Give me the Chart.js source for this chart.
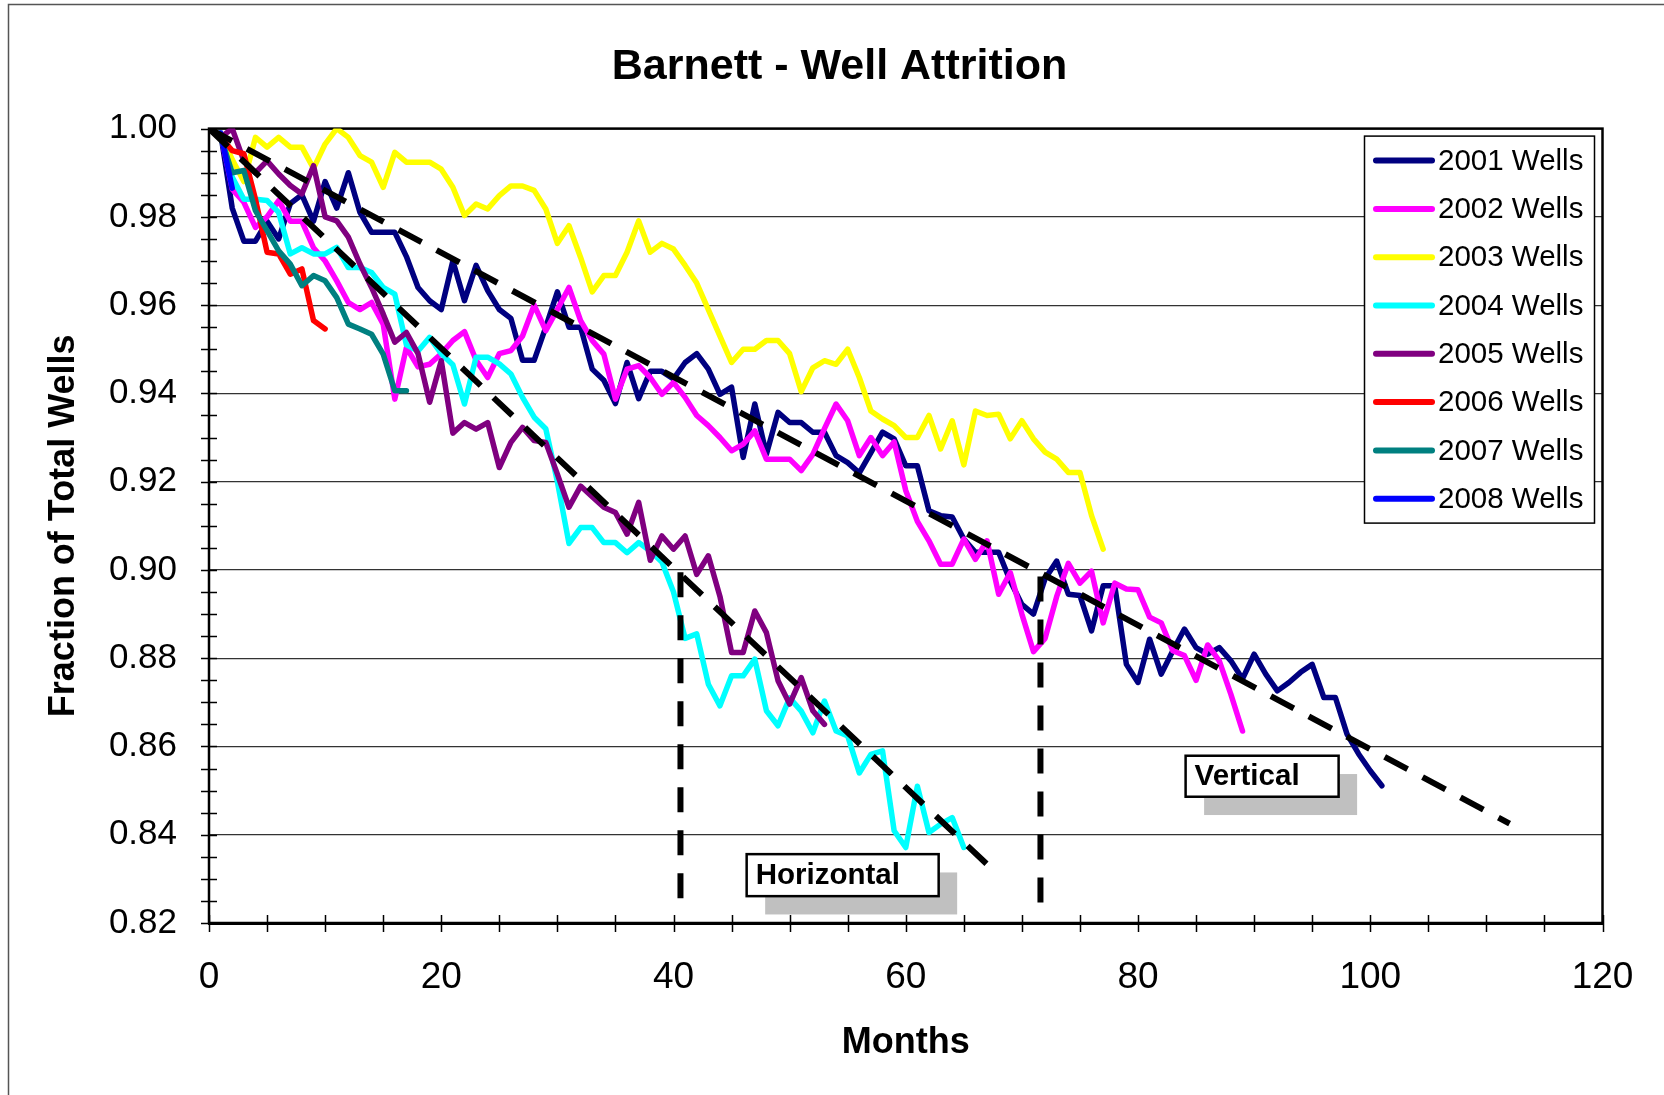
<!DOCTYPE html>
<html>
<head>
<meta charset="utf-8">
<title>Barnett - Well Attrition</title>
<script src="https://cdn.jsdelivr.net/npm/chart.js@4.4.1/dist/chart.umd.min.js"></script>
<style>
  html, body { margin: 0; padding: 0; background: #fff; }
  #wrap { position: relative; width: 1664px; height: 1095px; }
</style>
</head>
<body>
<div id="wrap"><canvas id="chart"></canvas></div>
<script>
// Fraction of wells still producing, by month since first production.
// Every series starts at month 1.
const seriesLabels = ['2001 Wells', '2002 Wells', '2003 Wells', '2004 Wells',
                      '2005 Wells', '2006 Wells', '2007 Wells', '2008 Wells'];
const seriesColors = ['#000080', '#ff00ff', '#ffff00', '#00ffff',
                      '#800080', '#ff0000', '#008080', '#0000ff'];

const wells2001 = [
  0.999, 0.982, 0.9745, 0.9745, 0.979, 0.975, 0.983, 0.985, 0.979, 0.988,
  0.982, 0.990, 0.981, 0.9765, 0.9765, 0.9765, 0.971, 0.964, 0.961, 0.959,
  0.970, 0.961, 0.969, 0.9633, 0.959, 0.957, 0.9475, 0.9475, 0.955, 0.963,
  0.955, 0.955, 0.9455, 0.943, 0.9377, 0.947, 0.9388, 0.945, 0.945, 0.9433,
  0.947, 0.949, 0.9455, 0.9398, 0.9414, 0.9255, 0.9376, 0.9262, 0.9357, 0.9334,
  0.9334, 0.9312, 0.9312, 0.9259, 0.9243, 0.922, 0.9266, 0.9312, 0.9297, 0.9236,
  0.9236, 0.9134, 0.9123, 0.912, 0.907, 0.904, 0.904, 0.904, 0.8975, 0.8922,
  0.890, 0.898, 0.902, 0.8945, 0.8942, 0.8862, 0.8964, 0.8964, 0.8786, 0.8745,
  0.8843, 0.8764, 0.8817, 0.8866, 0.8824, 0.8809, 0.8824, 0.8794, 0.8753, 0.8809,
  0.8764, 0.8726, 0.8745, 0.8768, 0.8786, 0.8711, 0.8711, 0.8628, 0.8583, 0.8545,
  0.8511
];
const wells2002 = [
  0.999, 0.9863, 0.9833, 0.9776, 0.980, 0.9837, 0.979, 0.979, 0.973, 0.970,
  0.9655, 0.9606, 0.959, 0.9606, 0.9557, 0.9387, 0.9504, 0.946, 0.9466, 0.949,
  0.952, 0.954, 0.9475, 0.9436, 0.949, 0.9497, 0.953, 0.960, 0.9542, 0.959,
  0.964, 0.9565, 0.952, 0.9489, 0.9387, 0.9455, 0.9463, 0.9436, 0.9398, 0.9425,
  0.9391, 0.935, 0.9327, 0.930, 0.927, 0.9285, 0.9315, 0.9251, 0.9251, 0.9251,
  0.9225, 0.9262, 0.932, 0.9376, 0.9338, 0.9259, 0.930, 0.9259, 0.929, 0.918,
  0.911, 0.9066, 0.9013, 0.9013, 0.907, 0.9024, 0.9066, 0.8945, 0.8994, 0.890,
  0.8815, 0.8845, 0.894, 0.9015, 0.897, 0.8997, 0.888, 0.897, 0.8957, 0.8955,
  0.8893, 0.888, 0.8817, 0.8806, 0.875, 0.883, 0.8794, 0.8718, 0.8635
];
const wells2003 = [
  0.999, 0.993, 0.988, 0.998, 0.9958, 0.998, 0.9958, 0.9958, 0.991, 0.9965,
  1.000, 0.998, 0.9939, 0.9924, 0.9867, 0.9946, 0.9924, 0.9924, 0.9924, 0.9908,
  0.9867, 0.9803, 0.9829, 0.9818, 0.9848, 0.987, 0.987, 0.986, 0.9818, 0.974,
  0.978, 0.9708, 0.963, 0.9667, 0.9667, 0.972, 0.9791, 0.972, 0.974, 0.9727,
  0.969, 0.965, 0.959, 0.953, 0.947, 0.950, 0.950, 0.952, 0.952, 0.949,
  0.9404, 0.9458, 0.9474, 0.9466, 0.950, 0.9436, 0.936, 0.9342, 0.9327, 0.930,
  0.930, 0.935, 0.9274, 0.9338, 0.9238, 0.936, 0.935, 0.9353, 0.9297, 0.9338,
  0.9297, 0.9267, 0.9251, 0.9221, 0.9221, 0.9123, 0.9047
];
const wells2004 = [
  0.999, 0.989, 0.984, 0.984, 0.9837, 0.981, 0.9716, 0.973, 0.9716, 0.9716,
  0.9731, 0.9685, 0.9685, 0.9674, 0.964, 0.9625, 0.951, 0.9496, 0.9527, 0.949,
  0.9465, 0.9376, 0.9482, 0.9482, 0.9467, 0.9444, 0.9391, 0.9346, 0.932, 0.920,
  0.906, 0.9096, 0.9096, 0.9062, 0.9062, 0.9039, 0.9062, 0.9043, 0.9018, 0.895,
  0.8845, 0.8855, 0.8741, 0.8692, 0.876, 0.876, 0.8798, 0.8681, 0.8647, 0.871,
  0.868, 0.8631, 0.8703, 0.8635, 0.8624, 0.854, 0.8582, 0.859, 0.8409, 0.8371,
  0.851, 0.8405, 0.8424, 0.8439, 0.8371
];
const wells2005 = [
  0.998, 1.000, 0.9927, 0.990, 0.9927, 0.9897, 0.9871, 0.9852, 0.9916, 0.980,
  0.9791, 0.9754, 0.9693, 0.964, 0.958, 0.9516, 0.9538, 0.949, 0.938, 0.9474,
  0.931, 0.9334, 0.9319, 0.9334, 0.9232, 0.9289, 0.9323, 0.9293, 0.9289, 0.9217,
  0.9142, 0.919, 0.9166, 0.9142, 0.913, 0.9081, 0.9153, 0.9022, 0.9077, 0.9047,
  0.9077, 0.899, 0.9032, 0.894, 0.8813, 0.8813, 0.8907, 0.8858, 0.8749, 0.8696,
  0.8756, 0.8681, 0.865
];
const wells2006 = [0.998, 0.995, 0.9943, 0.984, 0.972, 0.9716, 0.967, 0.9682, 0.9565, 0.9546];
const wells2007 = [
  0.998, 0.990, 0.9905, 0.9814, 0.9769, 0.9723, 0.9693, 0.9644, 0.9667, 0.9655,
  0.9617, 0.9557, 0.9546, 0.9534, 0.9489, 0.9406, 0.9406
];
const wells2008 = [0.999, 0.9865];

// dashed decline lines and the two split markers, as [month, fraction] pairs
const verticalTrend = [[0, 1.00], [112, 0.8425]];
const horizontalTrend = [[0, 1.00], [67, 0.8333]];
const horizontalSplit = [[40.6, 0.8995], [40.6, 0.8236]];
const verticalSplit = [[71.6, 0.8985], [71.6, 0.8236]];

const xTickValues = [0, 20, 40, 60, 80, 100, 120];
const yTickValues = [0.82, 0.84, 0.86, 0.88, 0.90, 0.92, 0.94, 0.96, 0.98, 1.00];

const FONT = '"Liberation Sans", Arial, Helvetica, sans-serif';

const wellData = [wells2001, wells2002, wells2003, wells2004,
                  wells2005, wells2006, wells2007, wells2008];

const datasets = wellData.map((vals, i) => ({
  label: seriesLabels[i],
  data: vals.map((v, k) => ({ x: k + 1, y: v })),
  borderColor: seriesColors[i],
  backgroundColor: seriesColors[i],
  borderWidth: 5.5,
  pointRadius: 0,
  borderJoinStyle: 'round',
  borderCapStyle: 'round',
  fill: false,
  order: wellData.length - i   // later years drawn on top, like Excel
}));

function guideLine(pairs, width, dash) {
  return {
    label: '',
    guide: true,
    data: pairs.map(p => ({ x: p[0], y: p[1] })),
    borderColor: '#000',
    borderWidth: width,
    borderDash: dash,
    borderCapStyle: 'butt',
    pointRadius: 0,
    fill: false,
    order: 0
  };
}
datasets.push(guideLine(verticalTrend, 6, [26, 17]));
datasets.push(guideLine(horizontalTrend, 6, [26, 17.5]));
datasets.push(guideLine(horizontalSplit, 6, [25, 18]));
datasets.push(guideLine(verticalSplit, 6, [25, 18]));

const notes = [
  { text: 'Horizontal', month: 46.3, value: 0.8356, w: 192, h: 42 },
  { text: 'Vertical', month: 84.1, value: 0.8579, w: 153, h: 41 }
];

// white page with the thin outer frame on the top and left
const pageFrame = {
  id: 'pageFrame',
  beforeDraw(chart) {
    const { ctx, width, height } = chart;
    ctx.save();
    ctx.fillStyle = '#fff';
    ctx.fillRect(0, 0, width, height);
    ctx.strokeStyle = '#555';
    ctx.lineWidth = 1.5;
    ctx.beginPath();
    ctx.moveTo(width, 4.5);
    ctx.lineTo(8.5, 4.5);
    ctx.lineTo(8.5, height);
    ctx.stroke();
    ctx.restore();
  }
};

// plot frame plus the small cross ticks on both axes
const axisTicks = {
  id: 'axisTicks',
  beforeDatasetsDraw(chart) {
    const { ctx, chartArea: a, scales: { x, y } } = chart;
    ctx.save();
    ctx.strokeStyle = '#000';
    ctx.lineWidth = 1.5;
    ctx.beginPath();
    for (let m = 0; m <= 120; m += 5) {
      const px = Math.round(x.getPixelForValue(m)) + 0.5;
      ctx.moveTo(px, a.bottom - 8);
      ctx.lineTo(px, a.bottom + 9);
    }
    for (let k = 0; k <= 36; k++) {
      const py = Math.round(y.getPixelForValue(0.82 + k * 0.005)) + 0.5;
      ctx.moveTo(a.left - 8, py);
      ctx.lineTo(a.left + 8, py);
    }
    ctx.stroke();
    ctx.lineWidth = 2.5;
    ctx.strokeRect(a.left, a.top, a.right - a.left, a.bottom - a.top);
    ctx.restore();
  }
};

// legend box sitting inside the plot, top right
const insideLegend = {
  id: 'insideLegend',
  afterDraw(chart) {
    const { ctx, chartArea: a } = chart;
    const items = chart.data.datasets.filter(d => !d.guide);
    const left = a.right - 238.5, top = a.top + 7;
    const w = 230, rowH = 48.3, h = 387;
    ctx.save();
    ctx.fillStyle = '#fff';
    ctx.fillRect(left, top, w, h);
    ctx.strokeStyle = '#000';
    ctx.lineWidth = 1.5;
    ctx.strokeRect(left + 0.5, top + 0.5, w, h);
    ctx.font = '29.5px ' + FONT;
    ctx.textBaseline = 'middle';
    ctx.textAlign = 'left';
    items.forEach((d, i) => {
      const cy = top + 25 + i * rowH;
      ctx.strokeStyle = d.borderColor;
      ctx.lineWidth = 6;
      ctx.lineCap = 'round';
      ctx.beginPath();
      ctx.moveTo(left + 12, cy);
      ctx.lineTo(left + 68, cy);
      ctx.stroke();
      ctx.fillStyle = '#000';
      ctx.fillText(d.label, left + 74, cy + 1);
    });
    ctx.restore();
  }
};

// "Horizontal" / "Vertical" labels with grey drop shadow
const noteBoxes = {
  id: 'noteBoxes',
  afterDatasetsDraw(chart) {
    const { ctx, scales: { x, y } } = chart;
    ctx.save();
    notes.forEach(n => {
      const px = x.getPixelForValue(n.month);
      const py = y.getPixelForValue(n.value);
      ctx.fillStyle = '#c0c0c0';
      ctx.fillRect(px + 18.5, py + 18.3, n.w, n.h);
      ctx.fillStyle = '#fff';
      ctx.fillRect(px, py, n.w, n.h);
      ctx.strokeStyle = '#000';
      ctx.lineWidth = 2.5;
      ctx.strokeRect(px, py, n.w, n.h);
      ctx.fillStyle = '#000';
      ctx.font = 'bold 29.5px ' + FONT;
      ctx.textBaseline = 'middle';
      ctx.fillText(n.text, px + 9, py + n.h / 2 + 1);
    });
    ctx.restore();
  }
};

new Chart(document.getElementById('chart'), {
  type: 'line',
  data: { datasets: datasets },
  options: {
    responsive: true,
    maintainAspectRatio: false,
    animation: false,
    devicePixelRatio: 1,
    layout: { padding: { left: 15, right: 0, top: 0, bottom: 0 } },
    plugins: {
      legend: { display: false },
      tooltip: { enabled: false },
      title: {
        display: true,
        text: 'Barnett - Well Attrition',
        color: '#000',
        font: { family: FONT, size: 43, weight: 'bold' },
        padding: { top: 41, bottom: 36 }
      }
    },
    scales: {
      x: {
        type: 'linear',
        min: 0,
        max: 120,
        afterBuildTicks: s => { s.ticks = xTickValues.map(v => ({ value: v })); },
        afterFit: s => { s.height = 172; },
        ticks: {
          color: '#000',
          // tall line box pushes the labels down without widening the right margin
          font: { family: FONT, size: 37, lineHeight: 1.4 },
          padding: 29,
          maxRotation: 0,
          autoSkip: false
        },
        grid: { display: false, drawTicks: false },
        border: { display: true, color: '#000', width: 3 },
        title: {
          display: true,
          text: 'Months',
          color: '#000',
          font: { family: FONT, size: 36, weight: 'bold' },
          padding: { top: 0, bottom: 30 }
        }
      },
      y: {
        type: 'linear',
        min: 0.82,
        max: 1.0,
        afterBuildTicks: s => { s.ticks = yTickValues.map(v => ({ value: v })); },
        afterFit: s => { s.width = 194; },
        ticks: {
          color: '#000',
          font: { family: FONT, size: 35 },
          padding: 32,
          autoSkip: false,
          callback: v => Number(v).toFixed(2)
        },
        grid: { color: '#333', lineWidth: 1.2, drawTicks: false },
        border: { display: true, color: '#000', width: 2 },
        title: {
          display: true,
          text: 'Fraction of Total Wells',
          color: '#000',
          font: { family: FONT, size: 36, weight: 'bold' },
          padding: { top: 27, bottom: 0 }
        }
      },
      // empty right-hand strip so the plot stops where the original does
      spacer: {
        type: 'linear',
        position: 'right',
        display: true,
        afterFit: s => { s.width = 61.5; },
        ticks: { display: false },
        grid: { display: false, drawTicks: false },
        border: { display: false }
      }
    }
  },
  plugins: [pageFrame, axisTicks, noteBoxes, insideLegend]
});
</script>
</body>
</html>
